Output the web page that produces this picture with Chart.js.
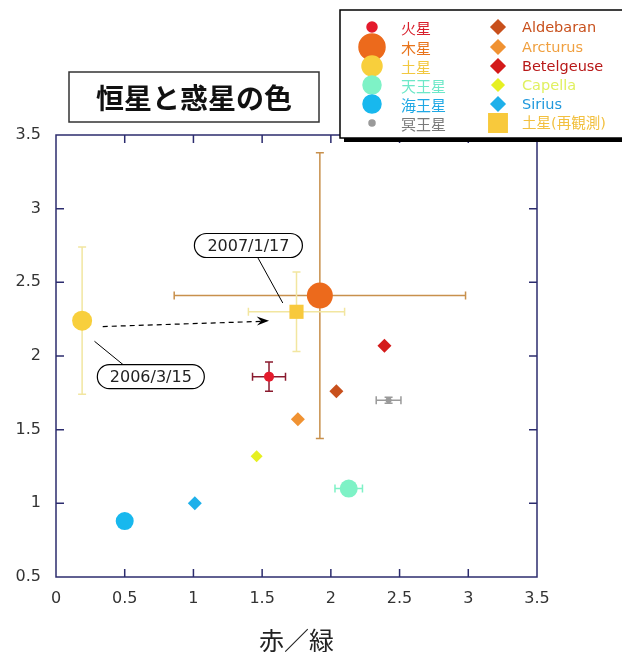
<!DOCTYPE html>
<html>
<head>
<meta charset="utf-8">
<script src="https://cdn.jsdelivr.net/npm/chart.js@4"></script>
<style>
  html, body { margin: 0; padding: 0; background: #fff; }
  #wrap { width: 622px; height: 652px; }
</style>
</head>
<body>
<div id="wrap"><canvas id="c" width="622" height="652"></canvas></div>
<script>
// データ
const names = ['火星', '木星', '土星', '天王星', '海王星', '冥王星',
  'Aldebaran', 'Arcturus', 'Betelgeuse', 'Capella', 'Sirius', '土星(再観測)'];
const xVals = [1.55, 1.92, 0.19, 2.13, 0.50, 2.42, 2.04, 1.76, 2.39, 1.46, 1.01, 1.75];
const yVals = [1.86, 2.41, 2.24, 1.10, 0.88, 1.70, 1.76, 1.57, 2.07, 1.32, 1.00, 2.30];
const xErr = [0.12, 1.06, 0, 0.10, 0, 0.09, 0, 0, 0, 0, 0, 0.35];
const yErr = [0.10, 0.97, 0.50, 0, 0, 0.02, 0, 0, 0, 0, 0, 0.27];
const xTicks = [0, 0.5, 1, 1.5, 2, 2.5, 3, 3.5];
const yTicks = [0.5, 1, 1.5, 2, 2.5, 3, 3.5];

const colors = ['#e41a2c', '#ec6a1c', '#f8cf3c', '#7ef2c6', '#18b8ee', '#9a9a9a',
  '#c8501c', '#f09232', '#d41a1a', '#e6f022', '#1eb0ea', '#f8c93c'];
const textColors = ['#d8202c', '#e8741c', '#f2c840', '#6ee8c8', '#20a8e4', '#7a7a7a',
  '#c8501c', '#f0a040', '#b81818', '#e0f060', '#2098dc', '#f2c040'];
const barColors = ['#8a1a2e', '#c8904c', '#f2e6a0', '#7ef2c6', '#18b8ee', '#9a9a9a',
  '', '', '', '', '', '#f2e6a0'];
const styles = ['circle', 'circle', 'circle', 'circle', 'circle', 'circle',
  'rectRot', 'rectRot', 'rectRot', 'rectRot', 'rectRot', 'rect'];
const radii = [5, 13, 10, 9, 9, 3, 7, 7, 7, 6, 7, 10];

const font = '"Noto Sans CJK JP", "Noto Sans", sans-serif';
const latin = '"DejaVu Sans", "Noto Sans CJK JP", sans-serif';
const axisColor = '#2c2c6e';

const datasets = names.map((n, i) => ({
  label: n,
  data: [{ x: xVals[i], y: yVals[i] }],
  backgroundColor: colors[i],
  borderColor: colors[i],
  pointStyle: styles[i],
  pointRadius: radii[i],
  pointHoverRadius: radii[i]
}));

// エラーバー
const errorBars = {
  id: 'errorBars',
  beforeDatasetsDraw(chart) {
    const { ctx, scales: { x, y } } = chart;
    ctx.save();
    ctx.lineWidth = 1.5;
    names.forEach((n, i) => {
      const px = x.getPixelForValue(xVals[i]);
      const py = y.getPixelForValue(yVals[i]);
      ctx.strokeStyle = barColors[i];
      const cap = 4;
      if (xErr[i]) {
        const x1 = x.getPixelForValue(xVals[i] - xErr[i]);
        const x2 = x.getPixelForValue(xVals[i] + xErr[i]);
        ctx.beginPath();
        ctx.moveTo(x1, py); ctx.lineTo(x2, py);
        ctx.moveTo(x1, py - cap); ctx.lineTo(x1, py + cap);
        ctx.moveTo(x2, py - cap); ctx.lineTo(x2, py + cap);
        ctx.stroke();
      }
      if (yErr[i]) {
        const y1 = y.getPixelForValue(yVals[i] - yErr[i]);
        const y2 = y.getPixelForValue(yVals[i] + yErr[i]);
        ctx.beginPath();
        ctx.moveTo(px, y1); ctx.lineTo(px, y2);
        ctx.moveTo(px - cap, y1); ctx.lineTo(px + cap, y1);
        ctx.moveTo(px - cap, y2); ctx.lineTo(px + cap, y2);
        ctx.stroke();
      }
    });
    ctx.restore();
  }
};

// 枠と目盛り（内向き、四辺）
const frame = {
  id: 'frame',
  afterDraw(chart) {
    const { ctx, chartArea: a, scales: { x, y } } = chart;
    ctx.save();
    ctx.strokeStyle = axisColor;
    ctx.lineWidth = 1.5;
    ctx.strokeRect(a.left, a.top, a.right - a.left, a.bottom - a.top);
    ctx.beginPath();
    xTicks.slice(1, -1).forEach(v => {
      const px = x.getPixelForValue(v);
      ctx.moveTo(px, a.bottom); ctx.lineTo(px, a.bottom - 8);
      ctx.moveTo(px, a.top); ctx.lineTo(px, a.top + 8);
    });
    yTicks.slice(1, -1).forEach(v => {
      const py = y.getPixelForValue(v);
      ctx.moveTo(a.left, py); ctx.lineTo(a.left + 8, py);
      ctx.moveTo(a.right, py); ctx.lineTo(a.right - 8, py);
    });
    ctx.stroke();
    // x軸タイトル
    ctx.fillStyle = '#222';
    ctx.font = '25px ' + font;
    ctx.textAlign = 'center';
    ctx.textBaseline = 'middle';
    ctx.fillText('赤／緑', (a.left + a.right) / 2, 640);
    ctx.restore();
  }
};

function pill(ctx, cx, cy, w, h, text) {
  const r = h / 2;
  ctx.beginPath();
  ctx.moveTo(cx - w / 2 + r, cy - r);
  ctx.lineTo(cx + w / 2 - r, cy - r);
  ctx.arc(cx + w / 2 - r, cy, r, -Math.PI / 2, Math.PI / 2);
  ctx.lineTo(cx - w / 2 + r, cy + r);
  ctx.arc(cx - w / 2 + r, cy, r, Math.PI / 2, Math.PI * 1.5);
  ctx.closePath();
  ctx.fillStyle = '#fff';
  ctx.fill();
  ctx.strokeStyle = '#000';
  ctx.lineWidth = 1.2;
  ctx.stroke();
  ctx.fillStyle = '#222';
  ctx.font = '16px ' + latin;
  ctx.textAlign = 'center';
  ctx.textBaseline = 'middle';
  ctx.fillText(text, cx, cy + 1);
}

// 注釈・タイトル・凡例
const extras = {
  id: 'extras',
  afterDraw(chart) {
    const { ctx, scales: { x, y } } = chart;
    const X = v => x.getPixelForValue(v), Y = v => y.getPixelForValue(v);
    ctx.save();

    // 矢印
    ctx.strokeStyle = '#000';
    ctx.lineWidth = 1.2;
    ctx.setLineDash([5, 4]);
    ctx.beginPath();
    ctx.moveTo(X(0.34), Y(2.20));
    ctx.lineTo(X(1.50), Y(2.235));
    ctx.stroke();
    ctx.setLineDash([]);
    const ex = X(1.55), ey = Y(2.24);
    const ang = Math.atan2(Y(2.24) - Y(2.20), X(1.55) - X(0.34));
    ctx.beginPath();
    ctx.moveTo(ex, ey);
    ctx.lineTo(ex - 13 * Math.cos(ang - 0.35), ey - 13 * Math.sin(ang - 0.35));
    ctx.lineTo(ex - 8 * Math.cos(ang), ey - 8 * Math.sin(ang));
    ctx.lineTo(ex - 13 * Math.cos(ang + 0.35), ey - 13 * Math.sin(ang + 0.35));
    ctx.closePath();
    ctx.fillStyle = '#000';
    ctx.fill();

    // 引き出し線
    ctx.lineWidth = 1;
    ctx.beginPath();
    ctx.moveTo(X(1.47), Y(2.665)); ctx.lineTo(X(1.65), Y(2.36));
    ctx.moveTo(X(0.28), Y(2.10)); ctx.lineTo(X(0.49), Y(1.94));
    ctx.stroke();
    pill(ctx, X(1.40), Y(2.75), 108, 24, '2007/1/17');
    pill(ctx, X(0.69), Y(1.86), 107, 24, '2006/3/15');

    // タイトル
    ctx.fillStyle = '#fff';
    ctx.fillRect(69, 72, 250, 50);
    ctx.strokeStyle = '#333';
    ctx.lineWidth = 1.5;
    ctx.strokeRect(69, 72, 250, 50);
    ctx.fillStyle = '#111';
    ctx.font = 'bold 28px ' + font;
    ctx.textAlign = 'center';
    ctx.textBaseline = 'middle';
    ctx.fillText('恒星と惑星の色', 194, 98);

    // 凡例
    ctx.fillStyle = '#000';
    ctx.fillRect(344, 14, 290, 128);
    ctx.fillStyle = '#fff';
    ctx.fillRect(340, 10, 290, 128);
    ctx.strokeStyle = '#000';
    ctx.lineWidth = 1.5;
    ctx.strokeRect(340, 10, 290, 128);
    ctx.textAlign = 'left';
    const rowsY = [27, 47, 66, 85, 104, 123];
    names.forEach((n, i) => {
      const col = i < 6 ? 0 : 1;
      const row = i % 6;
      const mx = col ? 498 : 372, tx = col ? 522 : 401;
      const my = rowsY[row];
      ctx.fillStyle = colors[i];
      ctx.strokeStyle = colors[i];
      Chart.helpers.drawPoint(ctx, {
        pointStyle: styles[i],
        radius: i === 11 ? 13 : radii[i],
        borderWidth: 0.5
      }, mx, my);
      ctx.fillStyle = textColors[i];
      ctx.font = (col ? '14.5px ' + latin : '15px ' + font);
      ctx.fillText(n, tx, my + 1);
    });
    ctx.restore();
  }
};

new Chart(document.getElementById('c'), {
  type: 'scatter',
  data: { datasets },
  options: {
    responsive: false,
    animation: false,
    layout: { padding: { top: 135, right: 85, left: 0, bottom: 0 } },
    plugins: { legend: { display: false }, tooltip: { enabled: false } },
    elements: { point: { borderWidth: 0 } },
    scales: {
      x: {
        min: 0, max: 3.5,
        afterBuildTicks: s => { s.ticks = xTicks.map(v => ({ value: v })); },
        afterFit: s => { s.height = 75; },
        grid: { display: false, drawTicks: false },
        border: { display: false },
        ticks: { color: '#333', padding: 12, font: { size: 16, family: latin }, maxRotation: 0,
          callback: v => String(v) }
      },
      y: {
        min: 0.5, max: 3.5,
        afterBuildTicks: s => { s.ticks = yTicks.map(v => ({ value: v })); },
        afterFit: s => { s.width = 56; },
        grid: { display: false, drawTicks: false },
        border: { display: false },
        ticks: { color: '#333', padding: 15, font: { size: 16, family: latin },
          callback: v => String(v) }
      }
    }
  },
  plugins: [errorBars, frame, extras]
});
</script>
</body>
</html>
